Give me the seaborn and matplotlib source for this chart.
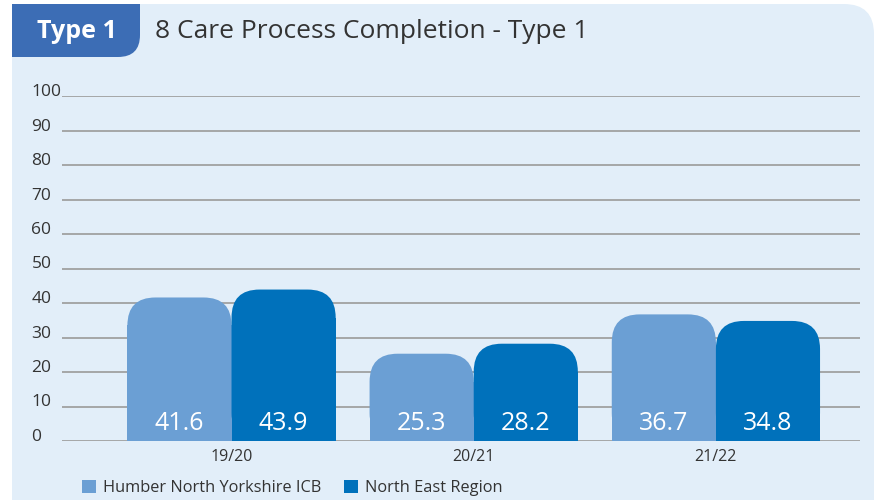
import numpy as np
import pandas as pd
import seaborn as sns
import matplotlib.pyplot as plt
from matplotlib.patches import FancyBboxPatch, Rectangle
from matplotlib.transforms import IdentityTransform

# data
years = ["19/20", "20/21", "21/22"]
areas = ["Humber North Yorkshire ICB", "North East Region"]
humber = [41.6, 25.3, 36.7]
north_east = [43.9, 28.2, 34.8]

light_blue = "#6b9fd4"
dark_blue = "#0071bb"
panel_bg = "#e2eef9"
tab_blue = "#3c6db5"
text_col = "#333333"

df = pd.DataFrame({
    "year": years * 2,
    "area": [areas[0]] * 3 + [areas[1]] * 3,
    "value": humber + north_east,
})

sns.set_theme(style="white")
plt.rcParams["font.family"] = ["Open Sans", "DejaVu Sans"]

W, H = 874, 500
fig = plt.figure(figsize=(W / 100, H / 100), dpi=100, facecolor="white")


def disp(x, y):
    # pixel coords measured from the top-left -> display coords
    return x, H - y


# panel background with rounded top-right corner
px, py = disp(12, 4)
fig.add_artist(FancyBboxPatch((px, -40), W - 12, py + 40,
                              boxstyle="round,pad=0,rounding_size=30",
                              transform=IdentityTransform(),
                              facecolor=panel_bg, edgecolor="none", zorder=-5))

# "Type 1" tab, only the bottom-right corner is rounded
tx, ty = disp(12, 57)
tw, th = 128, 53
fig.add_artist(FancyBboxPatch((tx, ty), tw, th,
                              boxstyle="round,pad=0,rounding_size=22",
                              transform=IdentityTransform(),
                              facecolor=tab_blue, edgecolor="none", zorder=-4))
fig.add_artist(Rectangle((tx, ty + 24), tw, th - 24, transform=IdentityTransform(),
                         facecolor=tab_blue, edgecolor="none", zorder=-4))
fig.add_artist(Rectangle((tx, ty), tw - 24, th, transform=IdentityTransform(),
                         facecolor=tab_blue, edgecolor="none", zorder=-4))
fig.text(77 / W, 1 - 31 / H, "Type 1", color="white", fontsize=18,
         fontweight="bold", ha="center", va="center")
fig.text(155 / W, 1 - 31 / H, "8 Care Process Completion - Type 1",
         color=text_col, fontsize=19, ha="left", va="center")

# axes
ax = fig.add_axes([62 / W, (H - 441) / H, (860 - 62) / W, (441 - 96) / H])
ax.set_facecolor("none")

sns.barplot(data=df, x="year", y="value", hue="area", palette=[light_blue, dark_blue],
            width=0.86, gap=0, saturation=1, ax=ax, legend=False, errorbar=None,
            linewidth=0)

ax.set_ylim(0, 100)
ax.set_xlim(-0.70, 2.595)
ax.set_yticks(range(0, 101, 10))
ax.grid(axis="y", color="#9a9a9a", linewidth=1.2)
ax.set_axisbelow(True)
for s in ax.spines.values():
    s.set_visible(False)
ax.set_xlabel("")
ax.set_ylabel("")
ax.tick_params(axis="both", length=0, labelcolor=text_col)
ax.tick_params(axis="y", pad=22, labelsize=12.5)
ax.tick_params(axis="x", pad=6, labelsize=11.5)
for lab in ax.get_yticklabels():
    lab.set_ha("left")
    lab.set_va("baseline")

# rounded tops for the bars
x_px = ax.transData.transform((1, 0))[0] - ax.transData.transform((0, 0))[0]
y_px = ax.transData.transform((0, 1))[1] - ax.transData.transform((0, 0))[1]
r = 28
rx, ry = r / x_px, r / y_px
for cont in ax.containers:
    for bar in cont:
        x0, w, h = bar.get_x(), bar.get_width(), bar.get_height()
        ax.add_patch(FancyBboxPatch((x0, 0), w, h,
                                    boxstyle=f"round,pad=0,rounding_size={rx}",
                                    mutation_aspect=ry / rx,
                                    facecolor=bar.get_facecolor(), edgecolor="none",
                                    zorder=bar.get_zorder()))
        bar.set_height(h - ry)
        ax.text(x0 + w / 2, 5.2, f"{h:.1f}", color="white", fontsize=18,
                ha="center", va="center", zorder=5)

handles = [cont[0] for cont in ax.containers]
fig.legend(handles, areas, loc="center left", bbox_to_anchor=(82 / W, 12 / H),
           ncol=2, frameon=False, fontsize=11.8, handlelength=0.85, handleheight=0.85,
           handletextpad=0.45, columnspacing=1.35, borderpad=0, borderaxespad=0,
           labelcolor=text_col)

fig.savefig("out.png", dpi=100, facecolor="white")
